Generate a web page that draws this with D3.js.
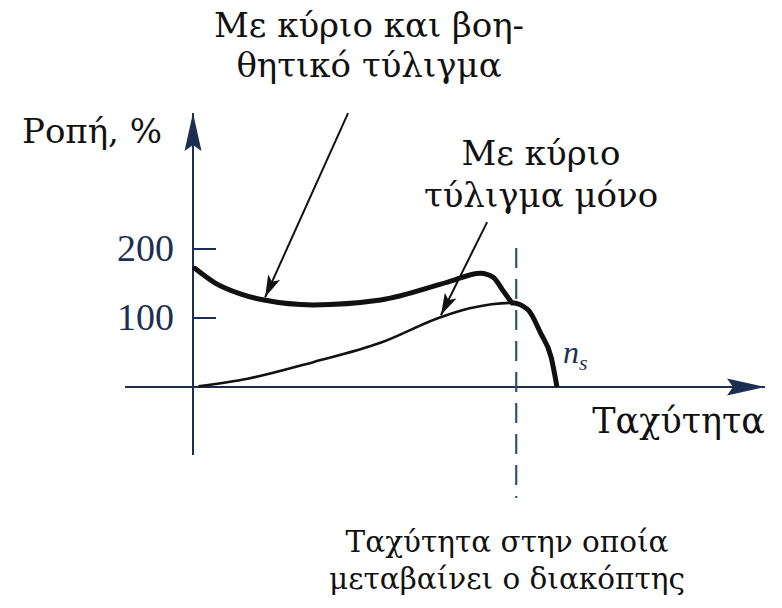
<!DOCTYPE html>
<html>
<head>
<meta charset="utf-8">
<script src="https://cdn.jsdelivr.net/npm/d3@7"></script>
<style>
  body { margin: 0; background: #fff; }
  text { font-family: "DejaVu Serif", serif; }
  .num { font-family: "Liberation Serif", "DejaVu Serif", serif; }
</style>
</head>
<body>
<div id="viz"></div>
<script>
// speed in % of synchronous speed n_s, torque in %
const bothSpeed  = [0.5, 6, 13, 19.5, 33, 51.5, 70, 79, 82.5, 85, 87.6];
const bothTorque = [172, 151, 135, 126, 119, 126, 152, 165, 159, 141, 122];

const mainSpeed  = [1.5, 15, 33, 51.5, 68, 76, 82, 87.6, 92, 95.5, 98.4, 100];
const mainTorque = [1, 12, 36, 64, 101, 114, 120, 122, 112, 78, 43, 0];

const switchSpeed = 88.8;
const yTicks = [100, 200];

const labelBoth = ["Με κύριο και βοη-", "θητικό τύλιγμα"];
const labelMain = ["Με κύριο", "τύλιγμα μόνο"];
const labelSwitch = ["Ταχύτητα στην οποία", "μεταβαίνει ο διακόπτης"];

// annotation arrows: [speed, torque] from -> to
const arrowBoth = [[42.6, 397], [19.8, 130]];
const arrowMain = [[80.8, 239], [68.1, 104]];

const width = 782, height = 608;
const navy = "#1c2f52";
const dashBlue = "#2b5578";

const svg = d3.select("#viz").append("svg")
    .attr("width", width)
    .attr("height", height);

const x = d3.scaleLinear().domain([0, 100]).range([193, 557]);
const y = d3.scaleLinear().domain([0, 200]).range([387, 249]);

const defs = svg.append("defs");

defs.append("marker")
    .attr("id", "axis-head")
    .attr("markerUnits", "userSpaceOnUse")
    .attr("viewBox", "-40 -10 42 20")
    .attr("refX", 0).attr("refY", 0)
    .attr("markerWidth", 42).attr("markerHeight", 20)
    .attr("orient", "auto")
    .append("path")
        .attr("d", "M0,0 L-38,-8.5 L-32,0 L-38,8.5 Z")
        .attr("fill", navy);

defs.append("marker")
    .attr("id", "note-head")
    .attr("markerUnits", "userSpaceOnUse")
    .attr("viewBox", "-24 -8 26 16")
    .attr("refX", 0).attr("refY", 0)
    .attr("markerWidth", 26).attr("markerHeight", 16)
    .attr("orient", "auto")
    .append("path")
        .attr("d", "M0,0 L-22,-6.5 L-17,0 L-22,6.5 Z")
        .attr("fill", "#111");

defs.append("clipPath")
    .attr("id", "after-switch")
    .append("rect")
        .attr("x", x(87.6))
        .attr("y", 0)
        .attr("width", width)
        .attr("height", height);

// axes
svg.append("line")
    .attr("x1", 125).attr("x2", 765)
    .attr("y1", y(0)).attr("y2", y(0))
    .attr("stroke", navy).attr("stroke-width", 2)
    .attr("marker-end", "url(#axis-head)");

svg.append("line")
    .attr("x1", x(0)).attr("x2", x(0))
    .attr("y1", 455).attr("y2", 113)
    .attr("stroke", navy).attr("stroke-width", 2)
    .attr("marker-end", "url(#axis-head)");

svg.selectAll(".tick")
    .data(yTicks)
    .join("line")
        .attr("class", "tick")
        .attr("x1", x(0)).attr("x2", x(0) + 23)
        .attr("y1", d => y(d)).attr("y2", d => y(d))
        .attr("stroke", navy).attr("stroke-width", 2);

svg.selectAll(".tick-label")
    .data(yTicks)
    .join("text")
        .attr("class", "tick-label num")
        .attr("x", 174)
        .attr("y", d => y(d) + 12)
        .style("text-anchor", "end")
        .style("font-size", "38px")
        .style("fill", navy)
        .text(d => d);

// switch speed line
svg.append("line")
    .attr("x1", x(switchSpeed)).attr("x2", x(switchSpeed))
    .attr("y1", 248).attr("y2", 498)
    .attr("stroke", dashBlue).attr("stroke-width", 2.2)
    .attr("stroke-dasharray", "20,11");

// curves
const line = d3.line()
    .x(d => x(d[0]))
    .y(d => y(d[1]))
    .curve(d3.curveMonotoneX);

const mainPts = mainSpeed.map((s, i) => [s, mainTorque[i]]);
const bothPts = bothSpeed.map((s, i) => [s, bothTorque[i]]);

svg.append("path")
    .attr("d", line(mainPts))
    .attr("fill", "none")
    .attr("stroke", "#111")
    .attr("stroke-width", 2.6);

svg.append("path")
    .attr("d", line(mainPts))
    .attr("clip-path", "url(#after-switch)")
    .attr("fill", "none")
    .attr("stroke", "#111")
    .attr("stroke-width", 5);

svg.append("path")
    .attr("d", line(bothPts))
    .attr("fill", "none")
    .attr("stroke", "#111")
    .attr("stroke-width", 5)
    .attr("stroke-linecap", "round");

// annotation arrows
svg.selectAll(".note-arrow")
    .data([arrowBoth, arrowMain])
    .join("line")
        .attr("class", "note-arrow")
        .attr("x1", d => x(d[0][0])).attr("y1", d => y(d[0][1]))
        .attr("x2", d => x(d[1][0])).attr("y2", d => y(d[1][1]))
        .attr("stroke", "#111").attr("stroke-width", 2)
        .attr("marker-end", "url(#note-head)");

// labels
function block(lines, cx, y0, lh, size) {
    svg.append("g").selectAll("text")
        .data(lines)
        .join("text")
            .attr("x", cx)
            .attr("y", (d, i) => y0 + i * lh)
            .style("text-anchor", "middle")
            .style("font-size", size)
            .style("fill", "#111")
            .text(d => d);
}

block(labelBoth, 369, 37, 40, "34px");
block(labelMain, 541, 165, 42, "34px");
block(labelSwitch, 507, 552, 37, "29.5px");

svg.append("text")
    .attr("x", 22).attr("y", 143)
    .style("font-size", "34px")
    .style("fill", "#111")
    .text("Ροπή, %");

svg.append("text")
    .attr("x", 765).attr("y", 433)
    .style("text-anchor", "end")
    .style("font-size", "35px")
    .style("fill", "#111")
    .text("Ταχύτητα");

const ns = svg.append("text")
    .attr("class", "num")
    .attr("x", 563).attr("y", 363)
    .style("font-size", "32px")
    .style("font-style", "italic")
    .style("fill", navy);
ns.append("tspan").text("n");
ns.append("tspan")
    .attr("dy", 7)
    .style("font-size", "22px")
    .text("s");
</script>
</body>
</html>
